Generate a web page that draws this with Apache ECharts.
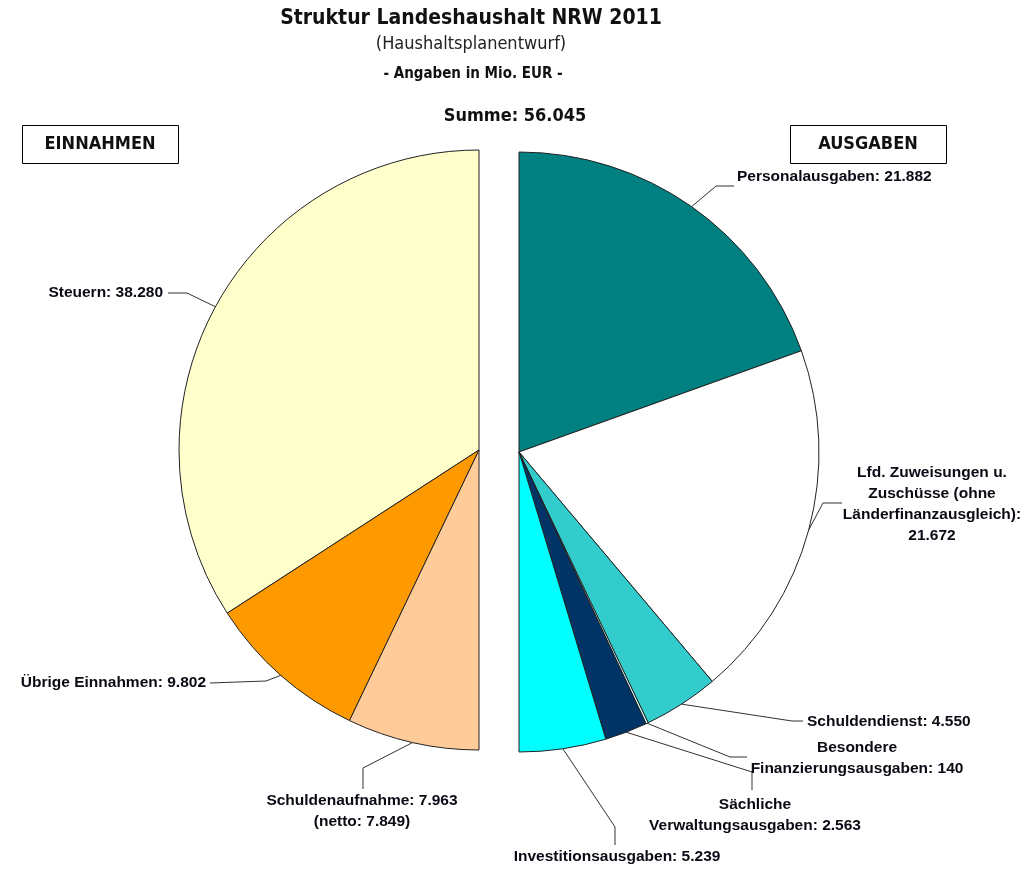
<!DOCTYPE html>
<html><head><meta charset="utf-8">
<script src="https://cdn.jsdelivr.net/npm/echarts@6/dist/echarts.min.js"></script>
<style>html,body{margin:0;padding:0;background:#fff}#c{width:1030px;height:869px}</style>
</head><body><div id="c"></div>
<script>
// ---- data ----
const einnahmenNames = ['Steuern', 'Übrige Einnahmen', 'Schuldenaufnahme'];
const einnahmenValues = [38280, 9802, 7963];
const schuldenaufnahmeNetto = 7849;
const ausgabenNames = ['Personalausgaben', 'Lfd. Zuweisungen u.\nZuschüsse (ohne\nLänderfinanzausgleich)', 'Schuldendienst', 'Besondere\nFinanzierungsausgaben', 'Sächliche\nVerwaltungsausgaben', 'Investitionsausgaben'];
const ausgabenValues = [21882, 21672, 4550, 140, 2563, 5239];
const summe = 56045;
const einnahmenColors = ['#FFFFCC', '#FF9900', '#FFCC99'];
const ausgabenColors = ['#008080', '#FFFFFF', '#33CCCC', '#CCFFFF', '#003366', '#00FFFF'];

// ---- helpers ----
const fmt = n => String(n).replace(/\B(?=(\d{3})+(?!\d))/g, '.');
const NARROW = '"Liberation Sans Narrow", "Arial Narrow", "DejaVu Sans Condensed", sans-serif';
const SANS = '"Liberation Sans", Arial, sans-serif';

// label positions (text anchors and guide-line bends)
const leftLabelPos = [
  {x:163, y:293, align:'right', bend:[187,293], end:[168,293]},
  {x:206, y:683, align:'right', bend:[266,681], end:[210,683]},
  {x:362, y:811, align:'center', bend:[363,768], end:[363,789]}
];
const rightLabelPos = [
  {x:737, y:177, align:'left', bend:[716,186], end:[734,186]},
  {x:932, y:504, align:'center', bend:[823,503], end:[842,503]},
  {x:807, y:722, align:'left', bend:[792,721], end:[803,721]},
  {x:857, y:758, align:'center', bend:[730,757], end:[747,757]},
  {x:755, y:815, align:'center', bend:[752,772], end:[752,790]},
  {x:617, y:857, align:'center', bend:[615,827], end:[615,845]}
];

function makeLayout(table){
  return function(p){
    const L = table[p.dataIndex];
    if(!L) return {};
    const start = (p.labelLinePoints && p.labelLinePoints[0]) || L.bend;
    return {x:L.x, y:L.y, align:L.align, verticalAlign:'middle',
            labelLinePoints:[start, L.bend, L.end]};
  };
}

function leftFormatter(p){
  if (p.dataIndex === 2) return p.name + ': ' + fmt(p.value) + '\n(netto: ' + fmt(schuldenaufnahmeNetto) + ')';
  return p.name + ': ' + fmt(p.value);
}
function rightFormatter(p){
  const sep = p.dataIndex === 1 ? ':\n' : ': ';
  return p.name + sep + fmt(p.value);
}

function buildData(names, values, colors){
  const total = values.reduce((a,b)=>a+b,0);
  const d = names.map((n,i)=>({name:n, value:values[i], itemStyle:{color:colors[i]}}));
  d.push({name:'', value:total, itemStyle:{color:'rgba(0,0,0,0)', borderWidth:0},
          label:{show:false}, labelLine:{show:false}});
  return d;
}

const labelCommon = {show:true, position:'outside', color:'#0a0a14', fontFamily:SANS,
  fontWeight:'bold', fontSize:15.5, lineHeight:21};
const lineCommon = {show:true, length:10, length2:10, lineStyle:{color:'#333', width:1}};

const chart = echarts.init(document.getElementById('c'), null, {renderer:'canvas'});
chart.setOption({
  animation:false,
  backgroundColor:'#fff',
  graphic:[
    {type:'text', x:471, y:19, style:{text:'Struktur Landeshaushalt NRW 2011', font:'bold 21px '+NARROW, fill:'#111', textAlign:'center', textVerticalAlign:'middle'}},
    {type:'text', x:471, y:44, style:{text:'(Haushaltsplanentwurf)', font:'18px '+NARROW, fill:'#222', textAlign:'center', textVerticalAlign:'middle'}},
    {type:'text', x:473, y:74, style:{text:'- Angaben in Mio. EUR -', font:'bold 15px '+NARROW, fill:'#111', textAlign:'center', textVerticalAlign:'middle'}},
    {type:'text', x:515, y:116, style:{text:'Summe: ' + fmt(summe), font:'bold 18px '+NARROW, fill:'#111', textAlign:'center', textVerticalAlign:'middle'}},
    {type:'rect', shape:{x:22.5, y:125.5, width:156, height:38}, style:{fill:'#fff', stroke:'#000', lineWidth:1}},
    {type:'text', x:100, y:144, style:{text:'EINNAHMEN', font:'bold 18px '+NARROW, fill:'#111', textAlign:'center', textVerticalAlign:'middle'}},
    {type:'rect', shape:{x:790.5, y:125.5, width:156, height:38}, style:{fill:'#fff', stroke:'#000', lineWidth:1}},
    {type:'text', x:868, y:144, style:{text:'AUSGABEN', font:'bold 18px '+NARROW, fill:'#111', textAlign:'center', textVerticalAlign:'middle'}}
  ],
  series:[
    {
      type:'pie', center:[479,450], radius:[0,300], startAngle:90, clockwise:false,
      avoidLabelOverlap:false, silent:true,
      label:Object.assign({formatter:leftFormatter}, labelCommon),
      labelLine:lineCommon,
      labelLayout:makeLayout(leftLabelPos),
      itemStyle:{borderColor:'#222', borderWidth:1},
      emphasis:{disabled:true},
      data:buildData(einnahmenNames, einnahmenValues, einnahmenColors)
    },
    {
      type:'pie', center:[519,452], radius:[0,300], startAngle:90, clockwise:true,
      avoidLabelOverlap:false, silent:true,
      label:Object.assign({formatter:rightFormatter}, labelCommon),
      labelLine:lineCommon,
      labelLayout:makeLayout(rightLabelPos),
      itemStyle:{borderColor:'#222', borderWidth:1},
      emphasis:{disabled:true},
      data:buildData(ausgabenNames, ausgabenValues, ausgabenColors)
    }
  ]
});
</script></body></html>
